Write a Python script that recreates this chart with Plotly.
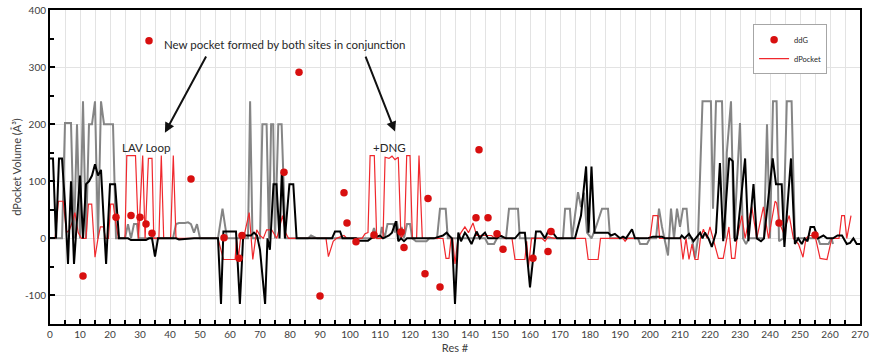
import plotly.graph_objects as go

# ---- data ----
gray_x = [0, 4, 5, 7, 8, 9, 10, 11, 12, 13, 14, 15, 16, 17, 18, 21, 22,
          25, 26, 27, 28, 29, 29.5, 41, 42, 43, 45, 46, 47, 48, 49, 50,
          56, 57.5, 59, 66, 66.7, 67.5, 70, 70.8, 72.2, 73, 73.7, 74.4, 75, 76.1, 77.2, 78.5,
          86, 87, 89, 107, 108, 109, 110, 110.6, 111.5, 112.5, 114.4, 115, 115.6, 116.5, 117.2, 118,
          119, 120, 120.8, 122, 125.5, 126.5, 129, 130, 131.9, 132.6,
          145, 146, 148, 149, 152, 153, 156, 156.6, 171, 171.7, 173.3, 174, 176, 177, 178, 179,
          180.5, 182, 184, 186, 186.7, 196, 196.7, 199, 200, 202, 203, 204, 206, 207, 208, 209,
          210, 211, 212.2, 213, 214, 215, 216, 217.5, 220.3, 221, 222, 224, 225, 225.6, 227, 228,
          230, 231, 232, 233, 238, 239, 240, 241, 242.2, 243, 244.4, 245.6, 247.2, 248.3,
          256, 256.7, 259.5, 260.5, 261]
gray_y = [0, 0, 202, 202, 0, 200, 0, 240, 0, 200, 200, 240, 0, 240, 200, 200, 0,
          0, 25, 0, 25, 25, 0, 0, 25, 27, 27, 28, 25, 10, 25, 0,
          0, 52, 0, 0, 240, 0, 0, 200, 200, 0, 200, 200, 0, 200, 200, 0,
          0, 5, 0, 0, 18, 0, 0, 20, 0, 25, 25, 10, 30, 0, 20, 0,
          25, 25, 0, -5, -5, 0, 0, 52, 52, 0,
          0, -10, -10, 0, 0, 52, 52, 0, 0, 52, 52, 0, 81, 55, 80, 10,
          0, 20, 52, 52, 0, 0, -10, -10, 0, 0, 52, 20, -30, 52, 0, 52,
          20, 52, 52, 0, 0, -35, 0, 240, 240, 52, 240, 240, 0, 150, 240, 0,
          202, 0, -10, 0, 0, 200, 0, 240, 240, -5, 0, 240, 240, 0,
          0, -10, -10, 0, -10]

black_x = [0, 1, 2, 3, 4, 5, 6, 7, 8, 9, 10, 11, 12, 13, 14, 15, 16, 17, 18, 18.7, 20, 21.7, 23,
           26, 27, 32, 33, 34, 35, 36, 42, 43, 48, 56, 57, 57.8, 62, 63.3, 64.4, 67, 68, 69, 70,
           71.7, 72.5, 73.3, 74.5, 75.5, 76.5, 77.3, 78.3, 79.8, 81.1, 82.2,
           94, 95, 96.7, 97.5, 102, 103, 106, 107, 110, 111, 113, 114, 115.3, 116.1, 117, 118, 119,
           128, 131, 132.2, 133, 134, 135, 136.1, 137, 138.3, 139, 140.5, 142.2, 143.3, 144, 145, 146,
           149, 150, 152, 155, 156.6, 158.3, 160, 162, 163.5, 165, 166, 167.3, 169,
           175, 176, 177, 178.7, 179.5, 180.5, 181.5, 186, 187, 188.3, 190, 191, 192, 194, 195,
           199, 201, 204, 205, 210, 210.6, 211.5, 213, 214.5, 216.7, 217.5, 218.3, 219.5, 220.6, 222,
           223.3, 224.4, 226.4, 227.6, 228.3, 229, 230.5, 231.7, 232.8, 234.5, 235.6, 237, 238,
           240.9, 242, 243.9, 244.8, 247, 248.3, 249.4, 250.6, 251.5, 252.5, 253.5, 254.7, 256,
           257.8, 259, 261, 262.5, 264, 265.6, 266.7, 267.8, 268.9, 270]
black_y = [140, 140, 0, 140, 140, 60, -45, 100, -45, 30, 110, 0, 95, 100, 110, 130, 110, 120, 30, -45, 95, 95, 0,
           0, -3, -3, 0, 0, -32, 0, 0, -2, 0, 0, -115, 12, 12, -115, 5, 5, 10, 5, -20,
           -115, 0, -20, 95, 95, 0, 120, 0, 95, 95, 0,
           0, 12, 12, 0, 0, -4, -4, 0, 5, 0, 5, 10, 30, -5, 0, -5, 0,
           0, 5, 10, 5, 0, -115, 10, -5, 10, 5, -10, 12, 0, 5, 10, 0,
           0, 5, 0, 0, 10, 10, -86, 12, 12, 0, 12, 12, 0,
           0, 20, 40, 126, 10, 126, 10, 10, 5, 8, 0, 3, 0, 16, 0,
           0, 3, 3, 0, 0, 5, 0, 8, -5, 10, 0, 10, 0, -15, 10,
           132, -5, 141, 135, -5, 0, 80, 140, -5, 95, 0, -5, 0,
           140, 95, 95, -15, 140, -10, 0, -10, 0, -5, 20, 20, 0,
           5, 0, 0, 5, 5, -10, -8, 0, -10, -10]

red_x = [0, 1.7, 2.8, 4.4, 5.5, 6.5, 7.5, 8.3, 9.4, 10.5, 12, 12.8, 13.9, 15, 16, 16.8, 17.8, 18.5,
         19.5, 20.2, 21.1, 21.7, 22.8, 25, 25.6, 28.5, 29.5, 30.9, 31.7, 32.8, 34, 34.6, 36.3, 37.1,
         37.9, 40.2, 41.1, 42, 56, 57.8, 61.7, 62.2, 62.8, 63.5, 64.5, 66.4, 67.6, 68.9, 70, 71.1,
         72.2, 73.9, 75.6, 76.5, 77.5, 78.5, 79.5, 92, 92.8, 94.4, 95.5, 98, 99, 104, 105, 106,
         106.7, 108.1, 108.9, 111, 111.7, 113, 114, 115, 116.1, 117, 118.2, 118.9, 120, 120.8,
         122.2, 123, 124.1, 131, 132, 133, 133.7, 134.2, 135, 136, 137, 138.3, 139.5, 141, 142.2,
         144, 147.2, 148.3, 149.5, 150.5, 151.5, 154, 155, 158.3, 158.9, 159.5, 160.5, 164, 165,
         166, 168, 178.5, 179.4, 182.7, 183.5, 191, 191.7, 192.5, 200, 201, 202.6, 203.2, 210.2,
         211, 212, 213, 214, 215, 216, 216.8, 217.8, 219, 220, 221, 222.8, 224.4, 225.6, 226.3,
         227.2, 228.3, 229, 230.6, 231.7, 233.9, 235.6, 237.8, 239.5, 241.7, 242.2, 243.3, 244.5,
         246.4, 247.8, 249.5, 251, 252, 253, 255, 256.7, 259, 260.6, 263, 263.9, 264.8, 265.6, 267]
red_y = [0, 0, 65, 65, 10, 15, 30, 45, 10, 0, 0, 60, 60, -33, 0, 20, 20, 0,
         0, 60, 60, 35, 0, 0, 145, 145, 0, 145, 0, 140, 140, 0, 0, 145,
         0, 0, 145, 0, 0, -37, -37, 0, -35, 0, 0, 45, -37, 15, 5, 0,
         15, 15, 0, 20, 40, 10, 0, 0, -32, -5, 0, 5, 0, 0, 8, 10,
         145, 145, 0, 0, 142, 140, 144, 138, 142, 0, 10, 145, 145, 0,
         0, 145, 0, 0, -35, -35, 0, 0, -45, 0, 10, 20, 10, 27, 5,
         5, 5, 0, 5, 5, 0, 0, -37, -37, -5, -50, 0, 0, -5,
         3, 0, 0, -37, -37, 0, 0, -5, 0, 0, 40, 40, 0, 0,
         -37, 0, -37, -10, -37, -37, 0, 16, 0, 20, 0, -35, -35, 0, 20,
         -35, -35, 0, 40, 0, 56, 0, 55, 0, 65, 62, 25, 10,
         40, 0, -10, -33, 0, 5, 5, -35, -37, 0, 0, 40, 40, 0, 40]

ddg_x = [11, 22, 27, 30, 32, 33, 34, 47, 58, 63, 64, 78, 83, 90, 98, 99, 102, 108, 117, 118,
         125, 126, 130, 142, 143, 146, 149, 151, 161, 166, 167, 243, 255]
ddg_y = [-66, 37, 40, 37, 25, 346, 9, 104, 1, -35, 5, 116, 291, -101, 80, 27, -6, 6, 11, -16,
         -62, 70, -85, 36, 155, 36, 8, -19, -35, -23, 12, 27, 6]

x_ticks = list(range(0, 271, 10))
y_ticks = [-100, 0, 100, 200, 300, 400]

FONT = "Lato"
TXT = "#404040"

fig = go.Figure()
fig.add_trace(go.Scatter(x=gray_x, y=gray_y, mode="lines", line=dict(color="#858585", width=2),
                         showlegend=False, hoverinfo="skip"))
fig.add_trace(go.Scatter(x=red_x, y=red_y, mode="lines", line=dict(color="#f0282d", width=1.2),
                         name="dPocket", legendrank=2))
fig.add_trace(go.Scatter(x=black_x, y=black_y, mode="lines", line=dict(color="#000000", width=2),
                         showlegend=False, hoverinfo="skip"))
fig.add_trace(go.Scatter(x=ddg_x, y=ddg_y, mode="markers",
                         marker=dict(color="#d80f0f", size=7.5, line=dict(width=0)),
                         name="ddG", legendrank=1))

axis_common = dict(showline=True, linecolor="#000000", linewidth=2, mirror=True,
                   ticks="inside", ticklen=5, tickcolor="#000000", tickwidth=1.5,
                   gridcolor="#e3e3e3", gridwidth=1, zeroline=False, automargin=False,
                   tickfont=dict(family=FONT, size=10, color=TXT))

fig.update_xaxes(range=[0, 270], tickvals=x_ticks, ticktext=[str(v) for v in x_ticks],
                 minor=dict(dtick=5, tick0=0, showgrid=True, gridcolor="#e3e3e3",
                            ticks="inside", ticklen=4, tickcolor="#000000"),
                 title=dict(text="Res #", font=dict(family=FONT, size=11, color=TXT), standoff=5),
                 **axis_common)
fig.update_yaxes(range=[-150, 400], tickvals=y_ticks, ticktext=[str(v) for v in y_ticks],
                 minor=dict(dtick=50, tick0=0, showgrid=False,
                            ticks="inside", ticklen=4, tickcolor="#000000"),
                 title=dict(text="dPocket Volume (Å³)", font=dict(family=FONT, size=11, color=TXT),
                            standoff=1),
                 **axis_common)

annotations = [
    dict(x=38.3, y=185, ax=52.3, ay=321, xref="x", yref="y", axref="x", ayref="y",
         showarrow=True, arrowhead=2, arrowsize=1, arrowwidth=2, arrowcolor="#111111", text=""),
    dict(x=115, y=187, ax=105, ay=321, xref="x", yref="y", axref="x", ayref="y",
         showarrow=True, arrowhead=2, arrowsize=1, arrowwidth=2, arrowcolor="#111111", text=""),
    dict(x=78.3, y=340, xref="x", yref="y", text="New pocket formed by both sites in conjunction",
         showarrow=False, font=dict(family=FONT, size=11.5, color="#262626")),
    dict(x=32, y=159, xref="x", yref="y", text="LAV Loop", showarrow=False,
         font=dict(family=FONT, size=11.5, color="#262626")),
    dict(x=113.2, y=160, xref="x", yref="y", text="+DNG", showarrow=False,
         font=dict(family=FONT, size=11.5, color="#262626")),
    dict(x=0.488, y=1, xref="paper", yref="paper", yanchor="bottom", yshift=8, text="Res #",
         showarrow=False, font=dict(family=FONT, size=11, color=TXT)),
]

fig.update_layout(
    width=871, height=357,
    margin=dict(l=50, r=11, t=10, b=33, autoexpand=False),
    paper_bgcolor="#ffffff", plot_bgcolor="#ffffff",
    font=dict(family=FONT, color=TXT),
    legend=dict(x=0.868, y=0.955, xanchor="left", yanchor="top",
                bgcolor="#ffffff", bordercolor="#a6a6a6", borderwidth=1,
                font=dict(family=FONT, size=7.5, color="#262626"),
                itemwidth=30, tracegroupgap=0),
    annotations=annotations,
)

fig.write_html("out.html")
